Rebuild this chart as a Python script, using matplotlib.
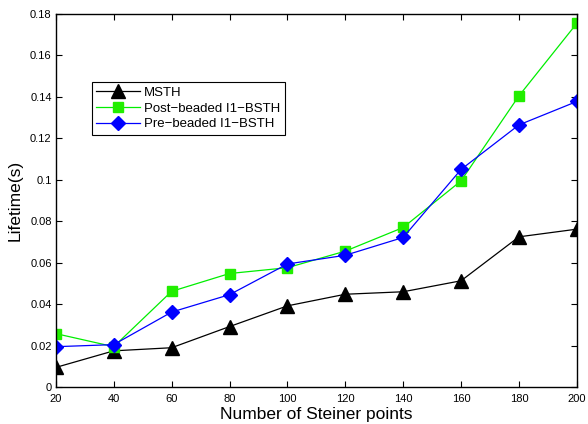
import matplotlib
matplotlib.use("Agg")
import matplotlib.pyplot as plt

plt.rcParams['font.family'] = ['Liberation Sans', 'DejaVu Sans']

x = [20, 40, 60, 80, 100, 120, 140, 160, 180, 200]
msth = [0.0095, 0.0175, 0.0190, 0.0292, 0.0392, 0.0448, 0.0460, 0.0513, 0.0725, 0.0762]
post = [0.0258, 0.0195, 0.0462, 0.0548, 0.0576, 0.0656, 0.0770, 0.0995, 0.1405, 0.1755]
pre = [0.0195, 0.0205, 0.0362, 0.0446, 0.0594, 0.0636, 0.0722, 0.1050, 0.1265, 0.1378]
yticks = [0, 0.02, 0.04, 0.06, 0.08, 0.1, 0.12, 0.14, 0.16, 0.18]
ytick_labels = ['0', '0.02', '0.04', '0.06', '0.08', '0.1', '0.12', '0.14', '0.16', '0.18']
xticks = [20, 40, 60, 80, 100, 120, 140, 160, 180, 200]

fig = plt.figure(figsize=(5.88, 4.24), dpi=100)
ax = fig.add_axes([0.095, 0.087, 0.886, 0.880])

ax.plot(x, msth, color='black', lw=0.9, marker='^', markersize=9.5, markerfacecolor='black', markeredgecolor='black', label='MSTH')
ax.plot(x, post, color='#00ee00', lw=0.9, marker='s', markersize=7, markerfacecolor='#22ee00', markeredgecolor='#22ee00', label='Post\u2212beaded I1\u2212BSTH')
ax.plot(x, pre, color='#0000ff', lw=0.9, marker='D', markersize=7.5, markerfacecolor='#0000ff', markeredgecolor='#0000ff', label='Pre\u2212beaded I1\u2212BSTH')

ax.set_xlim(20, 200)
ax.set_ylim(0, 0.18)
ax.set_xticks(xticks)
ax.set_xticklabels([str(v) for v in xticks])
ax.set_yticks(yticks)
ax.set_yticklabels(ytick_labels)
ax.tick_params(direction='in', top=True, right=True, labelsize=8, length=4, width=0.8)
ax.tick_params(axis='x', pad=5)
ax.tick_params(axis='y', pad=3)
for s in ax.spines.values():
    s.set_linewidth(1.0)

ax.set_xlabel('Number of Steiner points', fontsize=12.5, labelpad=2)
ax.set_ylabel('Lifetime(s)', fontsize=12.5, labelpad=5)

leg = ax.legend(loc='upper left', bbox_to_anchor=(0.156, 0.806), bbox_transform=fig.transFigure,
                fontsize=9.5, frameon=True, fancybox=False, edgecolor='black', framealpha=1,
                borderpad=0.35, labelspacing=0.25, handlelength=3.3, handletextpad=0.3, borderaxespad=0)
leg.get_frame().set_linewidth(0.8)

fig.savefig('out.png', dpi=100)
